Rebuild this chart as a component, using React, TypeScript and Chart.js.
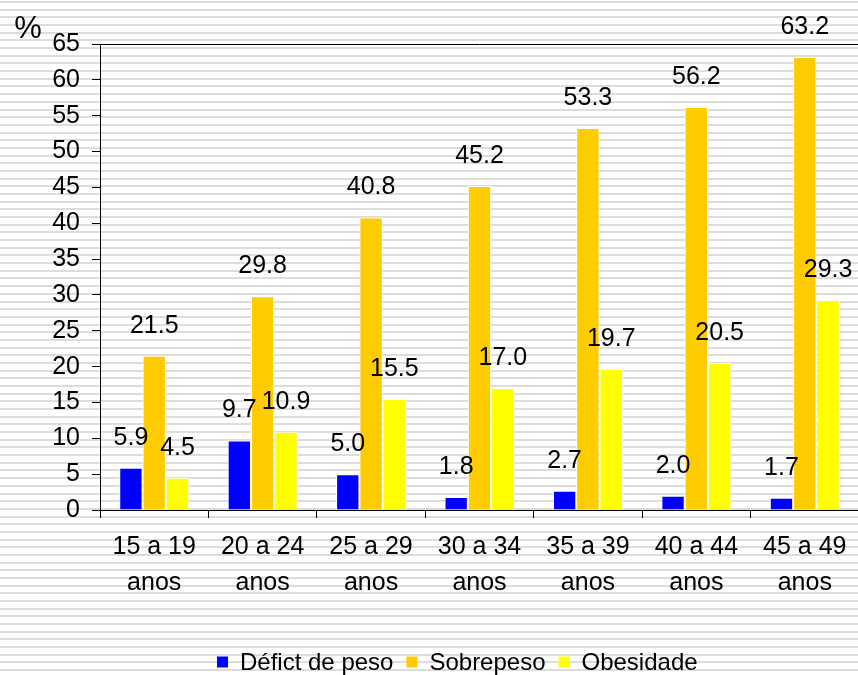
import React, { useEffect, useRef } from "react";
import { Chart, registerables } from "chart.js";

Chart.register(...registerables);

const categories: string[][] = [
  ["15 a 19", "anos"],
  ["20 a 24", "anos"],
  ["25 a 29", "anos"],
  ["30 a 34", "anos"],
  ["35 a 39", "anos"],
  ["40 a 44", "anos"],
  ["45 a 49", "anos"],
];
const deficitPeso = [5.9, 9.7, 5.0, 1.8, 2.7, 2.0, 1.7];
const sobrepeso = [21.5, 29.8, 40.8, 45.2, 53.3, 56.2, 63.2];
const obesidade = [4.5, 10.9, 15.5, 17.0, 19.7, 20.5, 29.3];
const seriesLabels = ["Défict de peso", "Sobrepeso", "Obesidade"];
const seriesColors = ["#0000FF", "#FFCC00", "#FFFF00"];
const yMin = 0;
const yMax = 65;
const yStep = 5;

const FONT = "Arial, 'Liberation Sans', sans-serif";

export default function App() {
  const ref = useRef<HTMLCanvasElement | null>(null);

  useEffect(() => {
    if (!ref.current) return;

    const extras = {
      id: "extras",
      afterDatasetsDraw(chart: any) {
        const ctx = chart.ctx;
        const area = chart.chartArea;
        ctx.save();
        // top border of plot area
        ctx.strokeStyle = "#000";
        ctx.lineWidth = 1;
        ctx.beginPath();
        ctx.moveTo(area.left, Math.round(area.top) + 0.5);
        ctx.lineTo(area.right, Math.round(area.top) + 0.5);
        ctx.stroke();
        // data labels
        ctx.fillStyle = "#000";
        ctx.font = `25px ${FONT}`;
        ctx.textAlign = "center";
        ctx.textBaseline = "middle";
        chart.data.datasets.forEach((ds: any, i: number) => {
          const meta = chart.getDatasetMeta(i);
          meta.data.forEach((el: any, j: number) => {
            const v = ds.data[j] as number;
            ctx.fillText(v.toFixed(1), el.x, el.y - 30);
          });
        });
        // % label
        ctx.font = `31px ${FONT}`;
        ctx.fillText("%", 28, 29);
        // legend
        ctx.font = `24px ${FONT}`;
        ctx.textAlign = "left";
        let x = 217;
        const cy = 662;
        chart.data.datasets.forEach((ds: any) => {
          ctx.fillStyle = ds.backgroundColor;
          ctx.fillRect(x, cy - 5.5, 11, 11);
          ctx.fillStyle = "#000";
          const tx = x + 23;
          ctx.fillText(ds.label, tx, cy + 1);
          x = tx + ctx.measureText(ds.label).width + 13;
        });
        ctx.restore();
      },
    };

    const mk = (i: number, data: number[]) => ({
      label: seriesLabels[i],
      data,
      backgroundColor: seriesColors[i],
      borderColor: "#FFFFFF",
      borderWidth: 1,
      borderSkipped: "bottom",
      categoryPercentage: 0.645,
      barPercentage: 1,
    });

    const chart = new Chart(ref.current, {
      type: "bar",
      data: {
        labels: categories,
        datasets: [mk(0, deficitPeso), mk(1, sobrepeso), mk(2, obesidade)],
      },
      options: {
        animation: false,
        responsive: false,
        maintainAspectRatio: false,
        layout: { padding: { left: 0, top: 44, right: 11, bottom: 0 } },
        plugins: {
          legend: { display: false },
          tooltip: { enabled: false },
          title: { display: false },
        },
        scales: {
          x: {
            type: "category",
            offset: true,
            grid: {
              display: true,
              drawOnChartArea: false,
              drawTicks: true,
              tickLength: 8,
              offset: true,
              color: "#000",
              tickColor: "#000",
            },
            border: { display: true, color: "#000", width: 1 },
            ticks: {
              color: "#000",
              font: { family: FONT, size: 25, lineHeight: 1.44 },
              padding: 11,
              maxRotation: 0,
              autoSkip: false,
            },
            afterFit: (scale: any) => {
              scale.height = 165;
            },
          },
          y: {
            min: yMin,
            max: yMax,
            grid: {
              display: true,
              drawOnChartArea: false,
              drawTicks: true,
              tickLength: 8,
              color: "#000",
              tickColor: "#000",
            },
            border: { display: true, color: "#000", width: 1 },
            ticks: {
              stepSize: yStep,
              color: "#000",
              font: { family: FONT, size: 25 },
              padding: 12,
            },
            afterFit: (scale: any) => {
              scale.width = 100;
            },
          },
        },
      },
      plugins: [extras],
    } as any);

    return () => chart.destroy();
  }, []);

  return (
    <div
      style={{
        position: "absolute",
        left: 0,
        top: 0,
        width: 858,
        height: 675,
        overflow: "hidden",
        background:
          "repeating-linear-gradient(to bottom, #ffffff 0px, #ffffff 1px, #dddddd 1px, #dddddd 3px, #ffffff 3px, #ffffff 7.68px)",
      }}
    >
      <canvas ref={ref} width={870} height={675} style={{ display: "block", width: 870, height: 675 }} />
    </div>
  );
}
